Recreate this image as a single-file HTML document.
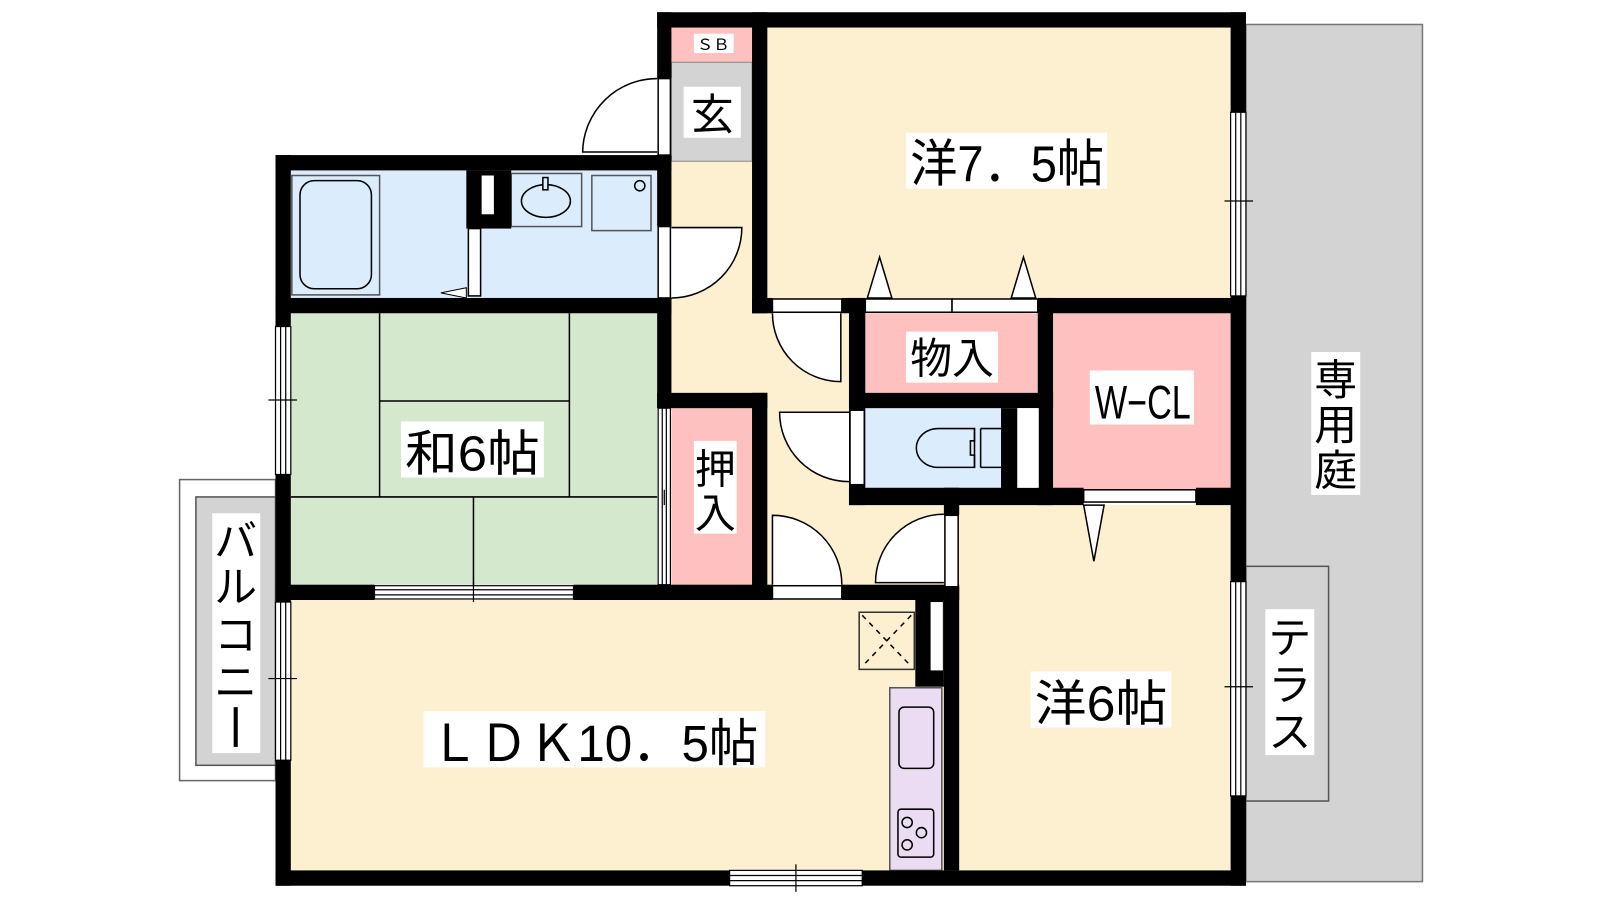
<!DOCTYPE html>
<html><head><meta charset="utf-8"><style>
html,body{margin:0;padding:0;background:#fff;width:1600px;height:900px;overflow:hidden}
svg{display:block}
text{font-family:"Liberation Sans","Noto Sans CJK JP",sans-serif;fill:#000}
</style></head><body>
<svg width="1600" height="900" viewBox="0 0 1568 882" xmlns="http://www.w3.org/2000/svg">
<rect x="1221" y="24" width="173" height="840" fill="#d3d3d3" stroke="#777" stroke-width="1.5"/>
<rect x="1221" y="555" width="81" height="230" fill="#d3d3d3" stroke="#555" stroke-width="1.5"/>
<rect x="176" y="470" width="94" height="295" fill="#fff" stroke="#666" stroke-width="1.5"/>
<rect x="192" y="487" width="78" height="263" fill="#d3d3d3" stroke="#555" stroke-width="1.5"/>

<rect x="658" y="152" width="180" height="436" fill="#fdf0d0"/>
<rect x="752" y="27" width="454" height="265" fill="#fdf0d0"/>
<rect x="752" y="495" width="454" height="358" fill="#fdf0d0"/>
<rect x="285" y="588" width="640" height="265" fill="#fdf0d0"/>
<rect x="658" y="27" width="79" height="34" fill="#ffc0c0"/>
<rect x="658" y="61" width="79" height="97" fill="#d3d3d3" stroke="#888" stroke-width="1"/>
<rect x="285" y="167" width="359" height="125" fill="#dbecfd"/>
<rect x="285" y="307" width="359" height="266" fill="#d3e8cd"/>
<rect x="658" y="400" width="79" height="173" fill="#ffc0c0"/>
<rect x="848" y="307" width="169" height="78" fill="#ffc0c0"/>
<rect x="1032" y="307" width="174" height="173" fill="#ffc0c0"/>
<rect x="848" y="400" width="133" height="78" fill="#dbecfd"/>

<g stroke="#000" stroke-width="1.5">
<line x1="372" y1="307" x2="372" y2="487"/><line x1="558" y1="307" x2="558" y2="487"/>
<line x1="372" y1="393" x2="558" y2="393"/><line x1="285" y1="487" x2="644" y2="487"/>
<line x1="464" y1="487" x2="464" y2="573"/>
</g>

<g fill="none" stroke="#000" stroke-width="1.5">
<rect x="286" y="172" width="86" height="117" fill="#dbecfd" stroke="#555"/>
<rect x="294" y="177" width="70" height="106" rx="14"/>
<rect x="501" y="170" width="69" height="52" stroke="#555"/>
<ellipse cx="535" cy="197" rx="24" ry="16"/>
<rect x="532" y="174" width="5" height="12" fill="#dbecfd"/>
<rect x="580" y="172" width="58" height="54" stroke="#555"/>
<circle cx="627" cy="182" r="5"/>
</g>
<polygon points="432,287 457,282 457,292" fill="#fff" stroke="#000" stroke-width="1"/>

<g fill="none" stroke="#000" stroke-width="1.5">
<path d="M955,420 h-36 a21,19 0 0 0 0,38 h36 z"/>
<path d="M955,420 v12 h-4 v14 h4 v12 M961,420 v38 M961,420 h20 M961,458 h20"/>
</g>

<rect x="842" y="600" width="54" height="56" fill="none" stroke="#333" stroke-width="1.5"/>
<path d="M845,603 L893,653 M893,603 L845,653" stroke="#000" stroke-width="1.5" stroke-dasharray="5,5"/>
<rect x="872" y="674" width="51" height="179" fill="#ecdcf3" stroke="#555" stroke-width="1.5"/>
<rect x="881" y="693" width="34" height="60" rx="5" fill="none" stroke="#000" stroke-width="1.5"/>
<rect x="880" y="793" width="35" height="47" rx="3" fill="none" stroke="#000" stroke-width="1.5"/>
<g fill="none" stroke="#000" stroke-width="1.5"><circle cx="889" cy="806" r="5"/><circle cx="903" cy="816" r="5"/><circle cx="889" cy="828" r="5"/></g>

<g fill="#000">
<rect x="644" y="12" width="577" height="15"/>
<rect x="1206" y="12" width="15" height="98"/><rect x="1206" y="290" width="15" height="280"/><rect x="1206" y="780" width="15" height="88"/>
<rect x="270" y="853" width="445" height="15"/><rect x="845" y="853" width="376" height="15"/>
<rect x="270" y="152" width="15" height="168"/><rect x="270" y="465" width="15" height="125"/><rect x="270" y="745" width="15" height="123"/>
<rect x="270" y="152" width="388" height="15"/>
<rect x="644" y="12" width="14" height="65"/>
<rect x="644" y="152" width="14" height="70"/>
<rect x="737" y="12" width="15" height="295"/>
<rect x="270" y="292" width="388" height="15"/>
<rect x="644" y="292" width="14" height="108"/>
<rect x="644" y="385" width="108" height="15"/>
<rect x="737" y="385" width="15" height="203"/>
<rect x="457" y="167" width="44" height="57"/>
<rect x="737" y="292" width="20" height="15"/><rect x="825" y="292" width="23" height="15"/><rect x="1017" y="292" width="204" height="15"/>
<rect x="832" y="292" width="16" height="203"/>
<rect x="1017" y="292" width="15" height="203"/>
<rect x="832" y="385" width="200" height="15"/>
<rect x="981" y="400" width="16" height="80"/>
<rect x="832" y="478" width="230" height="17"/><rect x="1172" y="478" width="49" height="17"/>
<rect x="925" y="478" width="15" height="27"/><rect x="925" y="575" width="15" height="278"/>
<rect x="270" y="573" width="97" height="15"/><rect x="562" y="573" width="195" height="15"/><rect x="825" y="573" width="115" height="15"/>
<rect x="897" y="588" width="28" height="85"/>
</g>
<rect x="472" y="172" width="12" height="38" fill="#fff"/>
<rect x="997" y="400" width="21" height="78" fill="#fff"/>
<rect x="912" y="590" width="12" height="67" fill="#fff"/>

<g fill="#fff" stroke="#000" stroke-width="1.5">
<rect x="645" y="77" width="12" height="75"/>
<path d="M644,149 L571,149 A73,73 0 0 1 644,77" />
<rect x="645" y="222" width="12" height="70"/>
<path d="M658,223 L727,223 A69,69 0 0 1 658,292"/>
<rect x="459" y="224" width="12" height="66"/>
<rect x="757" y="293" width="68" height="13"/>
<path d="M824,307 L824,374 A67,67 0 0 1 757,307"/>
<rect x="848" y="293" width="85" height="13"/><rect x="933" y="293" width="84" height="13"/>
<rect x="833" y="402" width="14" height="73"/>
<path d="M832,404 L764,404 A68,68 0 0 0 832,472"/>
<rect x="926" y="505" width="13" height="70"/>
<path d="M925,571 L858,571 A67,67 0 0 1 925,504"/>
<rect x="757" y="574" width="68" height="13"/>
<path d="M757,573 L757,505 A68,68 0 0 1 825,573"/>
<rect x="1062" y="480" width="110" height="12"/>
</g>
<g fill="#fff" stroke="#000" stroke-width="1.5">
<polygon points="862,252 850,292 874,292"/><polygon points="1003,252 991,292 1015,292"/>
<polygon points="1072,550 1062,495 1082,495"/>
</g>

<g fill="#fff" stroke="#000" stroke-width="1.2">
<rect x="1206" y="110" width="15" height="180"/><line x1="1211" y1="110" x2="1211" y2="290"/><line x1="1216" y1="110" x2="1216" y2="290"/>
<line x1="1200" y1="197" x2="1228" y2="197"/>
<rect x="1206" y="570" width="15" height="210"/><line x1="1211" y1="570" x2="1211" y2="780"/><line x1="1216" y1="570" x2="1216" y2="780"/>
<line x1="1200" y1="673" x2="1228" y2="673"/>
<rect x="270" y="320" width="15" height="145"/><line x1="275" y1="320" x2="275" y2="465"/><line x1="280" y1="320" x2="280" y2="465"/>
<line x1="263" y1="392" x2="291" y2="392"/>
<rect x="270" y="590" width="15" height="155"/><line x1="275" y1="590" x2="275" y2="745"/><line x1="280" y1="590" x2="280" y2="745"/>
<line x1="263" y1="665" x2="291" y2="665"/>
<rect x="715" y="853" width="130" height="15"/><line x1="715" y1="858" x2="845" y2="858"/><line x1="715" y1="863" x2="845" y2="863"/>
<line x1="780" y1="847" x2="780" y2="874"/>
<rect x="367" y="574" width="195" height="13"/><line x1="367" y1="578" x2="562" y2="578"/><line x1="367" y1="583" x2="562" y2="583"/>
<line x1="464" y1="571" x2="464" y2="590"/>
<rect x="645" y="400" width="12" height="173"/><line x1="649" y1="400" x2="649" y2="573"/><line x1="653" y1="400" x2="653" y2="573"/>
<line x1="651" y1="480" x2="651" y2="495"/>
</g>

<g fill="#fff">
<rect x="680" y="33" width="39" height="19"/>
<rect x="670" y="85" width="56" height="50"/>
<rect x="888" y="130" width="197" height="55"/>
<rect x="888" y="325" width="90" height="50"/>
<rect x="1068" y="363" width="102" height="53"/>
<rect x="393" y="413" width="140" height="55"/>
<rect x="680" y="432" width="42" height="91"/>
<rect x="415" y="697" width="335" height="55"/>
<rect x="1010" y="658" width="138" height="55"/>
<rect x="1285" y="345" width="48" height="140"/>
<rect x="1240" y="597" width="48" height="143"/>
<rect x="208" y="503" width="47" height="235"/>
</g>
<text x="699" y="49" font-size="15" text-anchor="middle" textLength="32" lengthAdjust="spacingAndGlyphs">ＳＢ</text>
<text x="698" y="127" font-size="42" text-anchor="middle">玄</text>
<text x="987" y="178" font-size="50" textLength="190" lengthAdjust="spacingAndGlyphs" text-anchor="middle">洋7．5帖</text>
<text x="933" y="366" font-size="42" text-anchor="middle" textLength="82" lengthAdjust="spacingAndGlyphs">物入</text>
<text x="1120" y="410" font-size="46" text-anchor="middle" textLength="94" lengthAdjust="spacingAndGlyphs">W−CL</text>
<text x="463" y="461" font-size="48" text-anchor="middle" textLength="132" lengthAdjust="spacingAndGlyphs">和6帖</text>
<text x="701" y="474" font-size="40" text-anchor="middle">押</text>
<text x="701" y="517" font-size="40" text-anchor="middle">入</text>
<text x="582" y="746" font-size="50" text-anchor="middle" textLength="322" lengthAdjust="spacingAndGlyphs">ＬＤＫ10．5帖</text>
<text x="1079" y="706" font-size="48" text-anchor="middle" textLength="130" lengthAdjust="spacingAndGlyphs">洋6帖</text>
<text x="1309" y="387" font-size="42" text-anchor="middle">専</text>
<text x="1309" y="431" font-size="42" text-anchor="middle">用</text>
<text x="1309" y="476" font-size="42" text-anchor="middle">庭</text>
<text x="1264" y="640" font-size="42" text-anchor="middle">テ</text>
<text x="1264" y="686" font-size="42" text-anchor="middle">ラ</text>
<text x="1264" y="732" font-size="42" text-anchor="middle">ス</text>
<text x="231" y="545" font-size="42" text-anchor="middle">バ</text>
<text x="231" y="590" font-size="42" text-anchor="middle">ル</text>
<text x="231" y="637" font-size="42" text-anchor="middle">コ</text>
<text x="231" y="683" font-size="42" text-anchor="middle">ニ</text>
<line x1="231" y1="693" x2="231" y2="732" stroke="#000" stroke-width="4"/>
</svg>
</body></html>
